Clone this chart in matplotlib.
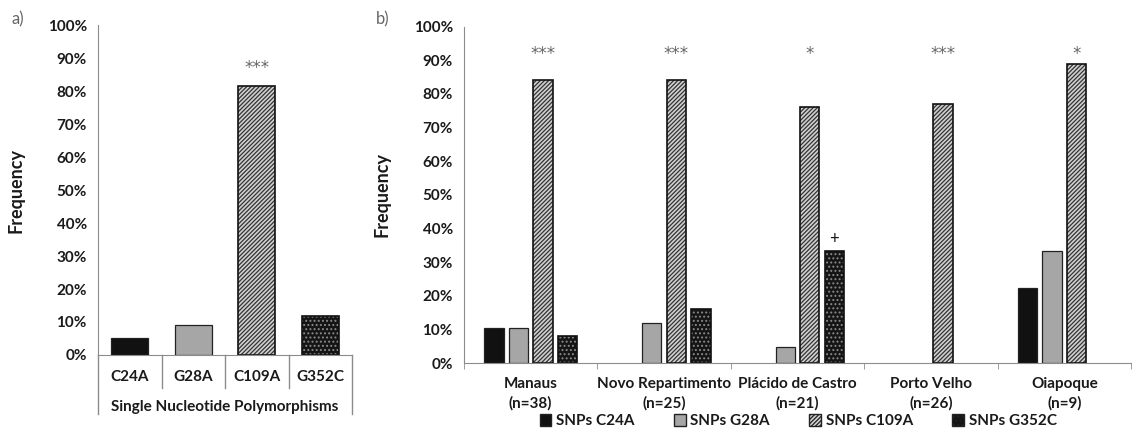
import numpy as np
import matplotlib.pyplot as plt
from matplotlib.patches import Patch
from matplotlib.ticker import PercentFormatter

plt.rcParams['font.family'] = ['Lato', 'DejaVu Sans']
plt.rcParams['hatch.linewidth'] = 0.9

# panel a data
snps = ['C24A', 'G28A', 'C109A', 'G352C']
freq_all = [0.050, 0.092, 0.815, 0.118]

# panel b data
sites = ['Manaus\n(n=38)', 'Novo Repartimento\n(n=25)', 'Plácido de Castro\n(n=21)',
         'Porto Velho\n(n=26)', 'Oiapoque\n(n=9)']
c24a = [0.105, 0.0, 0.0, 0.0, 0.222]
g28a = [0.105, 0.120, 0.048, 0.0, 0.333]
c109a = [0.842, 0.840, 0.762, 0.769, 0.889]
g352c = [0.079, 0.160, 0.333, 0.0, 0.0]
stars_b = ['***', '***', '*', '***', '*']

series_names = ['SNPs C24A', 'SNPs G28A', 'SNPs C109A', 'SNPs G352C']
styles = [
    dict(face='#111111', hatch=None, hcol=None),
    dict(face='#a6a6a6', hatch=None, hcol=None),
    dict(face='#d0d0d0', hatch='////////', hcol='#333333'),
    dict(face='#151515', hatch='....', hcol='#8a8a8a'),
]
text_c = '#1a1a1a'
spine_c = '#8c8c8c'
star_kw = dict(ha='center', va='center', fontsize=12, color='#666666', family='DejaVu Sans')


def draw_bar(ax, x, h, w, st):
    if st['hatch']:
        ax.bar(x, h, w, color=st['face'], hatch=st['hatch'], edgecolor=st['hcol'], linewidth=0)
        ax.bar(x, h, w, fill=False, edgecolor='#111111', linewidth=1.2)
    else:
        ax.bar(x, h, w, color=st['face'], edgecolor='#222222', linewidth=0.9)


fig = plt.figure(figsize=(11.37, 4.29), dpi=100)
ax1 = fig.add_axes([0.0862, 0.1725, 0.2234, 0.7692])
ax2 = fig.add_axes([0.4081, 0.1538, 0.5866, 0.7840])

for ax in (ax1, ax2):
    ax.set_ylim(0, 1)
    ax.yaxis.set_major_locator(plt.MultipleLocator(0.1))
    ax.yaxis.set_major_formatter(PercentFormatter(1.0, decimals=0))
    for s in ('top', 'right'):
        ax.spines[s].set_visible(False)
    ax.spines['left'].set_color(spine_c)
    ax.spines['bottom'].set_color(spine_c)
    ax.tick_params(axis='y', length=0, pad=8, labelsize=11, labelcolor=text_c)
    for lab in ax.get_yticklabels():
        lab.set_fontweight('bold')
    ax.set_ylabel('Frequency', fontsize=13, fontweight='bold', color=text_c)

# ---- panel a
for i, v in enumerate(freq_all):
    draw_bar(ax1, i, v, 0.59, styles[i])
ax1.set_xlim(-0.5, len(snps) - 0.5)
ax1.set_xticks([])
ax1.yaxis.set_label_coords(-0.29, 0.5)
trans = ax1.get_xaxis_transform()
for b in np.arange(0.5, len(snps) - 1, 1.0):
    ax1.plot([b, b], [0, -0.1], transform=trans, color=spine_c, lw=1, clip_on=False)
for b in (-0.5, len(snps) - 0.5):
    ax1.plot([b, b], [0, -0.18], transform=trans, color=spine_c, lw=1, clip_on=False)
for i, s in enumerate(snps):
    ax1.text(i, -0.067, s, transform=trans, ha='center', va='center',
             fontsize=11, fontweight='bold', color=text_c)
ax1.text(1.5, -0.158, 'Single Nucleotide Polymorphisms', transform=trans, ha='center',
         va='center', fontsize=11, fontweight='bold', color=text_c)
ax1.text(2, 0.87, '***', **star_kw)

# ---- panel b
x = np.arange(len(sites))
off = 0.184
w = 0.145
for k, vals in enumerate([c24a, g28a, c109a, g352c]):
    for xi, v in zip(x, vals):
        if v > 0:
            draw_bar(ax2, xi + (k - 1.5) * off, v, w, styles[k])
ax2.set_xlim(-0.5, len(sites) - 0.5)
ax2.set_xticks(x)
ax2.set_xticklabels(sites, fontsize=11, fontweight='bold', color=text_c,
                    linespacing=1.45)
ax2.set_xticks(np.arange(-0.5, len(sites), 1.0), minor=True)
ax2.tick_params(axis='x', which='major', length=0, pad=10)
ax2.tick_params(axis='x', which='minor', length=4, color=spine_c, direction='out')
ax2.yaxis.set_label_coords(-0.11, 0.5)
for xi, s in zip(x, stars_b):
    ax2.text(xi + 0.5 * off, 0.92, s, **star_kw)
ax2.text(2 + 1.5 * off, 0.369, '+', ha='center', va='center', fontsize=12, color=text_c)

handles = []
for st, name in zip(styles, series_names):
    if st['hatch']:
        handles.append(Patch(facecolor=st['face'], hatch=st['hatch'], edgecolor='#222222', label=name))
    else:
        handles.append(Patch(facecolor=st['face'], edgecolor='#222222', label=name))
leg = fig.legend(handles=handles, loc='center', bbox_to_anchor=(0.702, 0.018),
                 ncol=4, frameon=False, fontsize=11, handlelength=0.75, handleheight=0.75,
                 handletextpad=0.3, columnspacing=2.6, borderaxespad=0, borderpad=0)
for t in leg.get_texts():
    t.set_fontweight('bold')
    t.set_color(text_c)

fig.text(0.010, 0.955, 'a)', fontsize=12, color='#666666', va='center')
fig.text(0.331, 0.955, 'b)', fontsize=12, color='#666666', va='center')

fig.savefig('out.png', dpi=100)
